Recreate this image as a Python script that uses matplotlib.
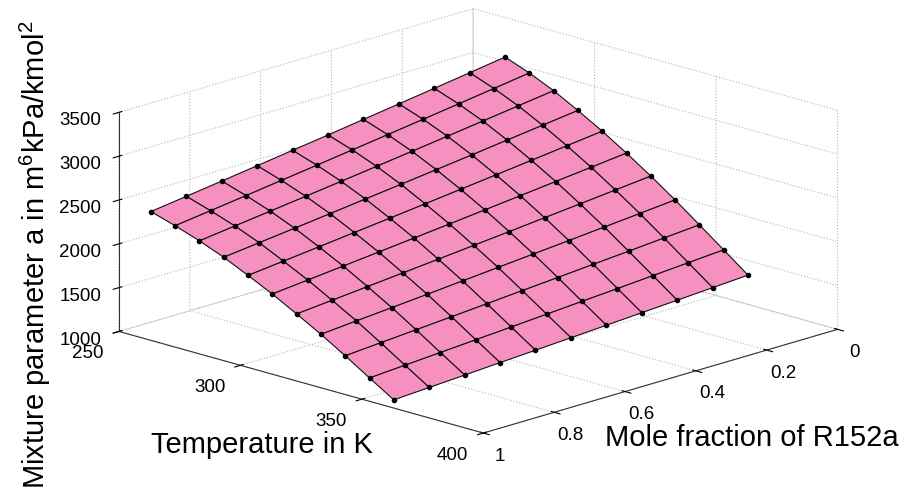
import numpy as np
import matplotlib
matplotlib.use('Agg')
import matplotlib.pyplot as plt

plt.rcParams['font.family'] = ['Liberation Sans', 'DejaVu Sans']
plt.rcParams['mathtext.fontset'] = 'custom'
plt.rcParams['mathtext.rm'] = 'Liberation Sans'
plt.rcParams['mathtext.it'] = 'Liberation Sans'
plt.rcParams['grid.linestyle'] = ':'
plt.rcParams['grid.color'] = '#b4b4b4'
plt.rcParams['grid.linewidth'] = 0.8

# Mole fraction of R152a and temperature grid (K)
mole_frac = [0.0, 0.1, 0.2, 0.3, 0.4, 0.5, 0.6, 0.7, 0.8, 0.9, 1.0]
temps = [263.15, 273.15, 283.15, 293.15, 303.15, 313.15,
         323.15, 333.15, 343.15, 353.15, 363.15]

# Mixture parameter a (m^6 kPa/kmol^2); one row per temperature
a_mix = [
    [3050, 2989, 2929, 2870, 2811, 2752, 2695, 2638, 2581, 2525, 2470],
    [2945, 2886, 2828, 2771, 2714, 2658, 2602, 2547, 2492, 2438, 2385],
    [2820, 2765, 2710, 2655, 2601, 2548, 2495, 2443, 2392, 2341, 2290],
    [2672, 2621, 2570, 2519, 2469, 2420, 2371, 2322, 2274, 2227, 2180],
    [2512, 2464, 2416, 2369, 2322, 2275, 2229, 2184, 2139, 2094, 2050],
    [2340, 2296, 2252, 2208, 2165, 2122, 2080, 2038, 1997, 1956, 1915],
    [2155, 2114, 2074, 2034, 1994, 1955, 1916, 1878, 1840, 1802, 1765],
    [1960, 1923, 1887, 1851, 1816, 1781, 1746, 1711, 1677, 1644, 1610],
    [1753, 1721, 1688, 1657, 1625, 1594, 1563, 1532, 1502, 1472, 1442],
    [1545, 1516, 1487, 1458, 1430, 1402, 1374, 1347, 1320, 1293, 1266],
    [1334, 1309, 1284, 1260, 1235, 1211, 1187, 1164, 1140, 1117, 1094],
]

X, Y = np.meshgrid(mole_frac, temps)
Z = np.array(a_mix, dtype=float)

fig = plt.figure(figsize=(9.05, 4.98), dpi=100)
ax = fig.add_axes([0.021, 0.043, 1.0, 1.0], projection='3d', proj_type='ortho')
ax.computed_zorder = False

surf = ax.plot_surface(X, Y, Z, rstride=1, cstride=1, color='#f590c0',
                       edgecolor='#111111', linewidth=0.8, shade=False,
                       zorder=1)
surf.set_clip_on(False)
dots = ax.scatter(X.ravel(), Y.ravel(), Z.ravel(), c='k', s=9,
                  depthshade=False, zorder=2)
dots.set_clip_on(False)

ax.set_xlim(0, 1)
ax.set_ylim(250, 400)
ax.set_zlim(1000, 3500)
ax.set_xticks([0, 0.2, 0.4, 0.6, 0.8, 1])
ax.set_xticklabels(['0', '0.2', '0.4', '0.6', '0.8', '1'])
ax.set_yticks([250, 300, 350, 400])
ax.set_zticks([1000, 1500, 2000, 2500, 3000, 3500])

ax.view_init(elev=16.6, azim=44.3)
ax.set_box_aspect((508, 510, 229), zoom=1.47)

for axis in (ax.xaxis, ax.yaxis, ax.zaxis):
    axis.pane.fill = False
    axis.pane.set_edgecolor('none')
    axis.line.set_color('#333333')
    axis.line.set_linewidth(0.8)

ax.tick_params(labelsize=13.5)
ax.tick_params(axis='x', pad=0.5)
ax.tick_params(axis='y', pad=0.0)
ax.tick_params(axis='z', pad=2)
for lbl in ax.get_yticklabels():
    lbl.set_ha('right')

# axis titles, written flat as in the original figure
fig.text(262 / 905, 1 - 445 / 498, 'Temperature in K', fontsize=21,
         ha='center', va='center')
fig.text(752 / 905, 1 - 438 / 498, 'Mole fraction of R152a', fontsize=21,
         ha='center', va='center')
fig.text(35 / 905, 1 - 255 / 498,
         r'Mixture parameter a in m$^6$kPa/kmol$^2$', fontsize=21,
         rotation=90, ha='center', va='center')

fig.savefig('out.png', dpi=100)
